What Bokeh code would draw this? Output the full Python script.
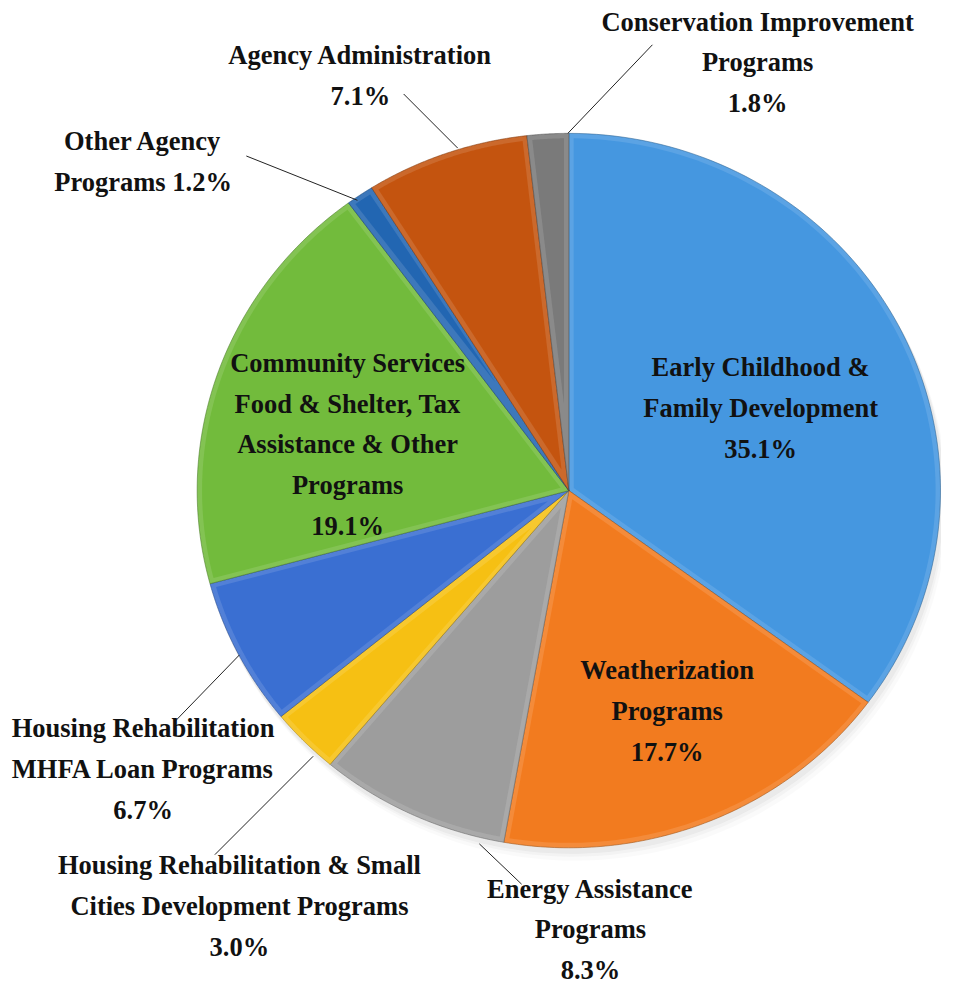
import numpy as np
from bokeh.plotting import figure
from bokeh.models import Range1d, ColumnDataSource
from bokeh.core.properties import value
from bokeh.embed import file_html
from bokeh.resources import INLINE

# ---- data ----
categories = [
    "Early Childhood & Family Development",
    "Weatherization Programs",
    "Energy Assistance Programs",
    "Housing Rehabilitation & Small Cities Development Programs",
    "Housing Rehabilitation MHFA Loan Programs",
    "Community Services Food & Shelter, Tax Assistance & Other Programs",
    "Other Agency Programs",
    "Agency Administration",
    "Conservation Improvement Programs",
]
values = [35.1, 17.7, 8.3, 3.0, 6.7, 19.1, 1.2, 7.1, 1.8]
label_texts = [
    "Early Childhood &\nFamily Development\n35.1%",
    "Weatherization\nPrograms\n17.7%",
    "Energy Assistance\nPrograms\n8.3%",
    "Housing Rehabilitation & Small\nCities Development Programs\n3.0%",
    "Housing Rehabilitation\nMHFA Loan Programs\n6.7%",
    "Community Services\nFood & Shelter, Tax\nAssistance & Other\nPrograms\n19.1%",
    "Other Agency\nPrograms 1.2%",
    "Agency Administration\n7.1%",
    "Conservation Improvement\nPrograms\n1.8%",
]
colors = ["#4597e0", "#f27b1f", "#9d9d9d", "#f6c013", "#3a6fd2",
          "#72bb3c", "#2266b2", "#c4540f", "#7a7a7a"]

# ---- layout (reference-pixel data units, y down) ----
W, H = 941, 989
CX, CY = 578.0, 498.0
RX, RY = 378.0, 363.0
BEVEL = 5.0

# label anchor positions (center of text block) and leader lines
label_pos = [(773, 414), (678, 722), (600, 944), (243, 920), (145, 781),
             (353, 451), (145, 164), (366, 76), (770, 63)]
leaders = {2: ((487, 857), (530, 898)),
           3: ((318, 768), (218, 868)),
           4: ((243, 665), (178, 732)),
           6: ((363, 203), (250, 158)),
           7: ((465, 150), (410, 95)),
           8: ((577, 135), (663, 45))}

p = figure(width=W, height=H, output_backend="svg", toolbar_location=None,
           x_range=Range1d(0, 957), y_range=Range1d(1005, 0),
           min_border=0, outline_line_color=None)
p.axis.visible = False
p.grid.visible = False
p.background_fill_color = "white"

def mix(c, other, t):
    c = c.lstrip("#"); o = other.lstrip("#")
    a = [int(c[i:i+2], 16) for i in (0, 2, 4)]
    b = [int(o[i:i+2], 16) for i in (0, 2, 4)]
    m = [round(a[k] * (1 - t) + b[k] * t) for k in range(3)]
    return "#%02x%02x%02x" % tuple(m)

vals = np.array(values)
cum = np.concatenate([[0], np.cumsum(vals)]) / vals.sum()
start = np.pi / 2 - 2 * np.pi * cum[:-1]
end = np.pi / 2 - 2 * np.pi * cum[1:]

def pt(th, rx, ry, cx=CX, cy=CY):
    return cx + rx * np.cos(th), cy - ry * np.sin(th)

# soft shadow
ts = np.linspace(0, 2 * np.pi, 240)
for off, al in [(12, 0.04), (8, 0.06), (5, 0.08)]:
    sx, sy = pt(ts, RX + 1, RY + 1, CX + off * 0.5, CY + off)
    p.patch(list(sx), list(sy), fill_color="#808080", fill_alpha=al, line_color=None)

outer_x, outer_y, outer_c, line_c = [], [], [], []
inner_x, inner_y, inner_c = [], [], []
for i in range(len(values)):
    th = np.linspace(start[i], end[i], 90)
    ax, ay = pt(th, RX, RY)
    outer_x.append([CX] + list(ax))
    outer_y.append([CY] + list(ay))
    outer_c.append(mix(colors[i], "#ffffff", 0.12))
    line_c.append(mix(colors[i], "#000000", 0.35))
    half = (start[i] - end[i]) / 2
    mid = (start[i] + end[i]) / 2
    d = BEVEL / np.sin(half) if half < np.pi / 2 else BEVEL
    d = min(d, RX * 0.6)
    icx, icy = pt(mid, d, d)
    dth = BEVEL / RX
    th2 = np.linspace(start[i] - dth, end[i] + dth, 90)
    bx, by = pt(th2, RX - BEVEL, RY - BEVEL)
    inner_x.append([icx] + list(bx))
    inner_y.append([icy] + list(by))
    inner_c.append(colors[i])

p.patches(xs=outer_x, ys=outer_y, fill_color=outer_c, line_color=line_c,
          line_width=0.8, line_alpha=0.7)
p.patches(xs=inner_x, ys=inner_y, fill_color=inner_c, line_color=None)

# leader lines
for i, ((x0, y0), (x1, y1)) in leaders.items():
    p.line([x0, x1], [y0, y1], line_color="#222222", line_width=1)

src = ColumnDataSource(dict(x=[q[0] for q in label_pos], y=[q[1] for q in label_pos],
                            text=label_texts))
p.text(x="x", y="y", text="text", source=src, text_align="center",
       text_baseline="middle", text_font=value("Liberation Serif"),
       text_font_style="bold", text_font_size="26.5px", text_color="#111111",
       text_line_height=1.36)

open("out.html", "w").write(file_html(p, INLINE))
